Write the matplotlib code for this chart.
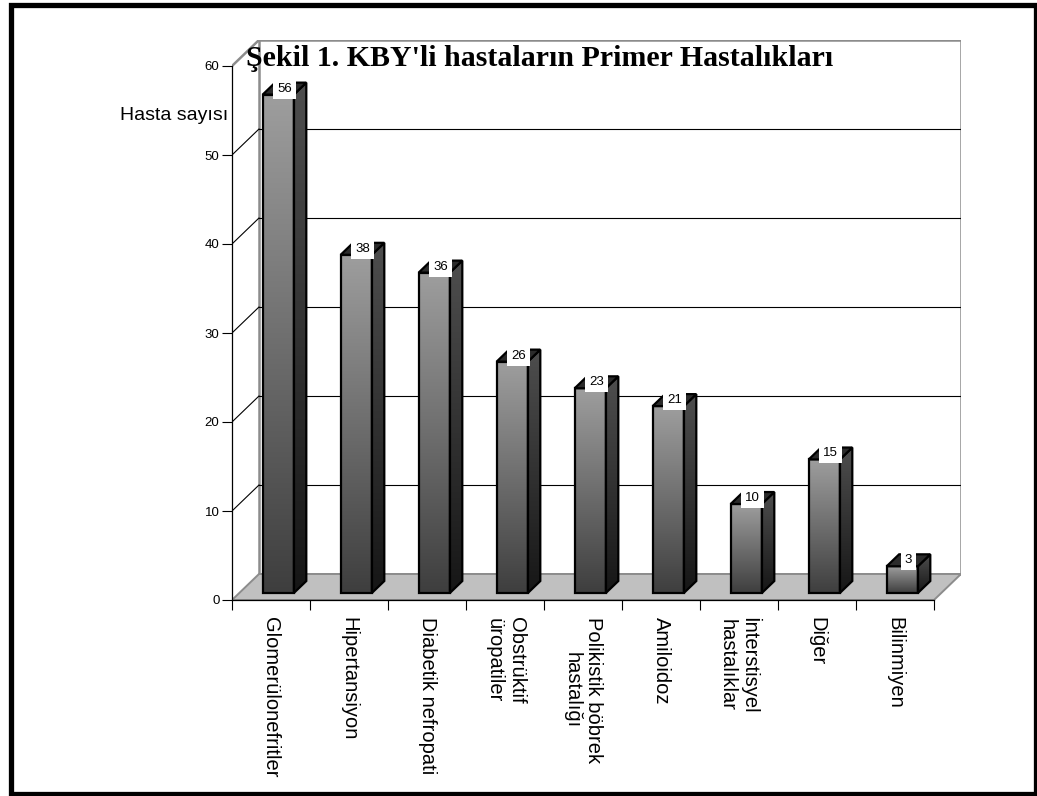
import numpy as np
import matplotlib.pyplot as plt
from matplotlib.colors import LinearSegmentedColormap
from matplotlib.patches import Polygon, Rectangle

plt.rcParams['font.family'] = ['Liberation Sans', 'DejaVu Sans']

categories = ['Glomerülonefritler', 'Hipertansiyon', 'Diabetik nefropati',
              'Obstrüktif\nüropatiler', 'Polikistik böbrek\nhastalığı',
              'Amiloidoz', 'İnterstisyel\nhastalıklar', 'Diğer', 'Bilinmiyen']
values = [56, 38, 36, 26, 23, 21, 10, 15, 3]
y_ticks = [0, 10, 20, 30, 40, 50, 60]

W, H = 1037, 796
fig = plt.figure(figsize=(W / 100, H / 100), dpi=100)

# front plane scale (pixels per category / per unit) and the depth offset of the box
cat_px, val_px = 78.0, 8.9
depth_px = (27.0, 26.0)
ddx, ddy = depth_px[0] / cat_px, depth_px[1] / val_px
n = len(categories)
vmax = y_ticks[-1]

ax_w = n * cat_px + depth_px[0]
ax_h = vmax * val_px + depth_px[1]
ax = fig.add_axes([232 / W, 196 / H, ax_w / W, ax_h / H])
ax.set_autoscale_on(False)
ax.set_xlim(0, ax_w / cat_px)
ax.set_ylim(0, ax_h / val_px)
ax.patch.set_visible(False)


def proj(x, v, z):
    return (x + z * ddx, v + z * ddy)


wall_col = '#8c8c8c'
# back wall, floor and side wall edges
ax.add_patch(Rectangle(proj(0, 0, 1), n, vmax, facecolor='white',
                       edgecolor=wall_col, lw=1.8, zorder=1))
ax.add_patch(Polygon([proj(0, 0, 0), proj(n, 0, 0), proj(n, 0, 1), proj(0, 0, 1)],
                     closed=True, facecolor='#c0c0c0', edgecolor=wall_col, lw=1.4, zorder=1))
p, q = proj(0, vmax, 0), proj(0, vmax, 1)
ax.plot([p[0], q[0]], [p[1], q[1]], color=wall_col, lw=1.8, zorder=1.5)

for k in y_ticks[1:-1]:
    a, b = proj(0, k, 1), proj(n, k, 1)
    ax.plot([a[0], b[0]], [a[1], b[1]], color='black', lw=0.8, zorder=1.5)
    c = proj(0, k, 0)
    ax.plot([c[0], a[0]], [c[1], a[1]], color='black', lw=0.8, zorder=1.5)

front_cmap = LinearSegmentedColormap.from_list('front', ['#3e3e3e', '#9e9e9e'])
side_cmap = LinearSegmentedColormap.from_list('side', ['#161616', '#4e4e4e'])
grad = np.linspace(0, 1, 256).reshape(-1, 1)

half_w = 0.2
z0, z1 = 0.27, 0.73
for i, v in enumerate(values):
    x0, x1 = i + 0.5 - half_w, i + 0.5 + half_w
    # front face
    f0, f1 = proj(x0, 0, z0), proj(x1, v, z0)
    ax.imshow(grad, cmap=front_cmap, origin='lower', aspect='auto',
              extent=[f0[0], f1[0], f0[1], f1[1]], zorder=3)
    front = Polygon([proj(x0, 0, z0), proj(x1, 0, z0), proj(x1, v, z0), proj(x0, v, z0)],
                    closed=True, fill=False, edgecolor='black', lw=1.6, joinstyle='miter', zorder=4)
    ax.add_patch(front)
    # right side face
    side_pts = [proj(x1, 0, z0), proj(x1, 0, z1), proj(x1, v, z1), proj(x1, v, z0)]
    side = Polygon(side_pts, closed=True, fill=False, edgecolor='black', lw=1.6,
                   joinstyle='miter', zorder=4)
    ax.add_patch(side)
    im = ax.imshow(grad, cmap=side_cmap, origin='lower', aspect='auto',
                   extent=[side_pts[0][0], side_pts[1][0], side_pts[0][1], side_pts[2][1]],
                   zorder=3)
    im.set_clip_path(side)
    # top face
    ax.add_patch(Polygon([proj(x0, v, z0), proj(x1, v, z0), proj(x1, v, z1), proj(x0, v, z1)],
                         closed=True, facecolor='#2b2b2b', edgecolor='black', lw=1.6,
                         joinstyle='miter', zorder=4))
    tx, ty = proj(i + 0.5, v, (z0 + z1) / 2)
    ax.text(tx, ty, str(v), ha='center', va='center', fontsize=9.5, zorder=6,
            bbox=dict(facecolor='white', edgecolor='none', boxstyle='square,pad=0.3'))

for s in ['top', 'right']:
    ax.spines[s].set_visible(False)
ax.spines['left'].set_bounds(0, vmax)
ax.spines['bottom'].set_bounds(0, n)
for s in ['left', 'bottom']:
    ax.spines[s].set_linewidth(0.9)
    ax.spines[s].set_zorder(2)

ax.set_yticks(y_ticks)
ax.tick_params(axis='y', length=7, width=0.8, pad=2, labelsize=9.5)
ax.set_xticks(np.arange(n + 1))
ax.set_xticklabels([])
ax.set_xticks(np.arange(n) + 0.5, categories, minor=True, rotation=-90,
              ha='center', va='top', multialignment='center', fontsize=14.5)
ax.tick_params(axis='x', which='major', length=7, width=0.8)
ax.tick_params(axis='x', which='minor', length=0, pad=12)

ax.set_ylabel('Hasta sayısı', rotation=0, ha='right', va='center', fontsize=14)
ax.yaxis.set_label_coords(-4 / ax_w, (600 - 116) / ax_h)

fig.text(540 / W, 1 - 59 / H, "Şekil 1. KBY'li hastaların Primer Hastalıkları",
         family='Liberation Serif', weight='bold', fontsize=21.5,
         ha='center', va='center', zorder=10)

fig.add_artist(Rectangle((11 / W, 2 / H), (1036 - 11) / W, (791.5 - 2) / H,
                         transform=fig.transFigure, fill=False,
                         edgecolor='black', lw=3.8))

fig.savefig('out.png', dpi=100)
